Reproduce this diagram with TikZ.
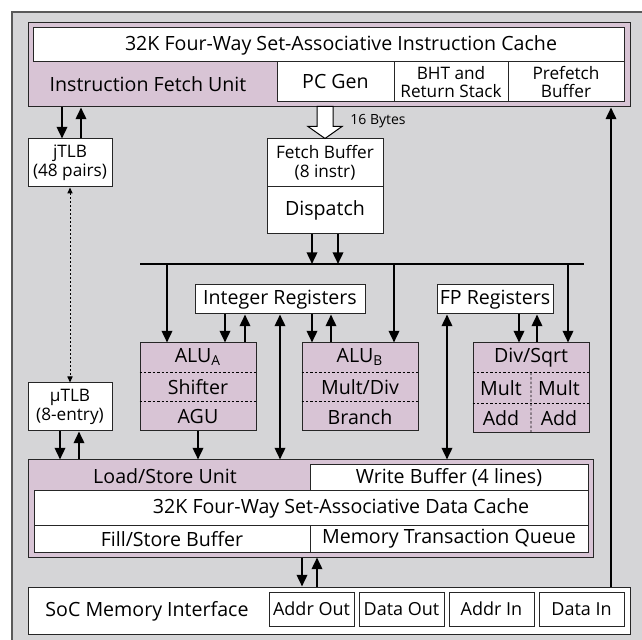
\documentclass[tikz,border=0pt]{standalone}
\usepackage{fontspec}
\setmainfont{Open Sans}
\usetikzlibrary{arrows.meta,calc}

\definecolor{chipgray}{RGB}{213,213,215}
\definecolor{unitpink}{RGB}{216,196,213}

\begin{document}
\begin{tikzpicture}[x=0.5pt,y=-0.5pt,
    sz/.style 2 args={minimum width=#1*0.5pt, minimum height=#2*0.5pt},
    box/.style={draw=black!85, line width=0.5pt, fill=white, inner sep=0pt, align=center,
      font=\fontsize{9.8}{11}\selectfont},
    unit/.style={box, fill=unitpink},
    twoline/.style={font=\fontsize{8.6}{9.4}\selectfont},
    port/.style={box, font=\fontsize{9}{10}\selectfont},
    txt/.style={inner sep=0pt, font=\fontsize{9.8}{11}\selectfont},
    divider/.style={line width=0.4pt, dash pattern=on 1.2pt off 1pt},
    flow/.style={line width=1.05pt, -{Triangle[length=5.8pt,width=5.2pt]}},
    both/.style={line width=1.05pt, {Triangle[length=5.8pt,width=5.2pt]}-{Triangle[length=5.8pt,width=5.2pt]}},
    tlblink/.style={line width=0.5pt, dash pattern=on 1pt off 1pt,
      {Triangle[length=3pt,width=2.6pt]}-{Triangle[length=3pt,width=2.6pt]}},
    bus/.style={line width=1.05pt}]
    \useasboundingbox (0,0) rectangle (642,640);
    \fill[chipgray] (12,12) rectangle (660,660);
    \draw[black!65, line width=0.6pt] (12,660) -- (12,12) -- (660,12);

    % instruction side
    \node[unit, sz={602}{84}] (ifu) at (329,65) {};
    \node[box, sz={591}{34}] (icache) at (328.5,45) {};
    \node[txt] (icachetxt) at (341,45) {32K Four-Way Set-Associative Instruction Cache};
    \node[txt] (ifutxt) at (148,84) {Instruction Fetch Unit};
    \node[box, sz={117}{40}] (pcgen) at (335.5,82) {PC Gen};
    \node[box, twoline, sz={114}{40}] (bht) at (451,82) {BHT and\\Return Stack};
    \node[box, twoline, sz={116}{40}] (pfbuf) at (566,82) {Prefetch\\Buffer};

    \node[box, twoline, sz={84}{48}] (jtlb) at (70,163) {jTLB\\(48 pairs)};
    \node[box, twoline, sz={84}{48}] (utlb) at (70,407) {µTLB\\(8-entry)};
    \node[box, twoline, sz={116}{48}] (fbuf) at (325,163) {Fetch Buffer\\(8 instr)};
    \node[box, sz={116}{47}] (disp) at (325,210.5) {Dispatch};
    \node[inner sep=0pt, font=\fontsize{7}{8}\selectfont] (bytes) at (378,121) {16 Bytes};

    % registers and execution units
    \node[box, sz={170}{29}] (ireg) at (280,299.5) {Integer Registers};
    \node[box, sz={116}{29}] (freg) at (495,299.5) {FP Registers};

    \node[unit, sz={116}{88}] (alua) at (198,387) {};
    \node[unit, sz={116}{88}] (alub) at (360,387) {};
    \node[unit, sz={116}{90}] (fpu) at (531,388) {};
    \foreach \u in {alua,alub,fpu} {
      \draw[divider] ($(\u.north west)!1/3!(\u.south west)$) -- ($(\u.north east)!1/3!(\u.south east)$);
      \draw[divider] ($(\u.north west)!2/3!(\u.south west)$) -- ($(\u.north east)!2/3!(\u.south east)$);
    }
    \draw[divider] ($(fpu.north)!1/3!(fpu.south)$) -- (fpu.south);
    \node[txt] (aluatxt) at ($(alua.north)!1/6!(alua.south)$) {ALU\textsubscript{A}};
    \node[txt] (shift) at (alua.center) {Shifter};
    \node[txt] (agu) at ($(alua.north)!5/6!(alua.south)$) {AGU};
    \node[txt] (alubtxt) at ($(alub.north)!1/6!(alub.south)$) {ALU\textsubscript{B}};
    \node[txt] (muldiv) at (alub.center) {Mult/Div};
    \node[txt] (branch) at ($(alub.north)!5/6!(alub.south)$) {Branch};
    \node[txt] (divsqrt) at ($(fpu.north)!1/6!(fpu.south)$) {Div/Sqrt};
    \node[txt] (multl) at (501,388) {Mult};
    \node[txt] (multr) at (559,388) {Mult};
    \node[txt] (addl) at (501,418) {Add};
    \node[txt] (addr) at (559,418) {Add};

    % data side
    \node[unit, sz={565}{97}] (lsu) at (310.5,508.5) {};
    \node[txt] (lsutxt) at (165,476) {Load/Store Unit};
    \node[box, sz={278}{26}] (wbuf) at (449,478) {Write Buffer (4 lines)};
    \node[box, sz={554}{35}] (dcache) at (311,508.5) {};
    \node[txt] (dcachetxt) at (341,508.5) {32K Four-Way Set-Associative Data Cache};
    \node[box, sz={276}{26}] (fsb) at (172,539) {Fill/Store Buffer};
    \node[box, sz={278}{26}] (mtq) at (449,539) {Memory Transaction Queue};

    \node[box, sz={602}{47}] (soc) at (329,610.5) {};
    \node[txt] (soctxt) at (147,611) {SoC Memory Interface};
    \node[port, sz={85}{34}] (aout) at (311.5,609) {Addr Out};
    \node[port, sz={85}{34}] (dout) at (401.5,609) {Data Out};
    \node[port, sz={85}{34}] (ain) at (491.5,609) {Addr In};
    \node[port, sz={85}{34}] (din) at (581.5,609) {Data In};

    % columns of the connectors
    \coordinate (jdn) at (62,0);   \coordinate (jup) at (81,0);
    \coordinate (udn) at (60,0);   \coordinate (uup) at (79,0);
    \coordinate (dsa) at (312,0);  \coordinate (dsb) at (338,0);
    \coordinate (bxa) at (167,0);  \coordinate (bxb) at (394,0);  \coordinate (bxf) at (568,0);
    \coordinate (ian) at (225,0);  \coordinate (iau) at (245,0);
    \coordinate (ibn) at (312,0);  \coordinate (ibu) at (331,0);
    \coordinate (fdn) at (519,0);  \coordinate (fup) at (537,0);
    \coordinate (ils) at (280,0);  \coordinate (fls) at (447,0);
    \coordinate (mdn) at (302,0);  \coordinate (mup) at (317,0);
    \coordinate (pfc) at (611,0);
    \coordinate (busl) at (140,264); \coordinate (busr) at (584,264);

    % connectors
    \draw[flow] (ifu.south -| jdn) -- (jtlb.north -| jdn);
    \draw[flow] (jtlb.north -| jup) -- (ifu.south -| jup);
    \draw[tlblink] (jtlb.south) -- (utlb.north);
    \draw[flow] (utlb.south -| udn) -- (lsu.north -| udn);
    \draw[flow] (lsu.north -| uup) -- (utlb.south -| uup);

    \draw[line width=0.5pt, fill=white] (fbuf.north) -- ++(-17,-12) -- ++(9,0) -- ++(0,-20)
      -- ++(16,0) -- ++(0,20) -- ++(9,0) -- cycle;

    \draw[bus] (busl) -- (busr);
    \draw[flow] (disp.south -| dsa) -- (busl -| dsa);
    \draw[flow] (disp.south -| dsb) -- (busl -| dsb);
    \draw[flow] (busl -| bxa) -- (alua.north -| bxa);
    \draw[flow] (busl -| bxb) -- (alub.north -| bxb);
    \draw[flow] (busl -| bxf) -- (fpu.north -| bxf);

    \draw[flow] (ireg.south -| ian) -- (alua.north -| ian);
    \draw[flow] (alua.north -| iau) -- (ireg.south -| iau);
    \draw[flow] (ireg.south -| ibn) -- (alub.north -| ibn);
    \draw[flow] (alub.north -| ibu) -- (ireg.south -| ibu);
    \draw[flow] (freg.south -| fdn) -- (fpu.north -| fdn);
    \draw[flow] (fpu.north -| fup) -- (freg.south -| fup);
    \draw[both] (ireg.south -| ils) -- (lsu.north -| ils);
    \draw[both] (freg.south -| fls) -- (lsu.north -| fls);
    \draw[flow] (alua.south) -- (alua.south |- lsu.north);

    \draw[flow] (lsu.south -| mdn) -- (soc.north -| mdn);
    \draw[flow] (soc.north -| mup) -- (lsu.south -| mup);
    \draw[flow] (soc.north -| pfc) -- (ifu.south -| pfc);
\end{tikzpicture}
\end{document}
